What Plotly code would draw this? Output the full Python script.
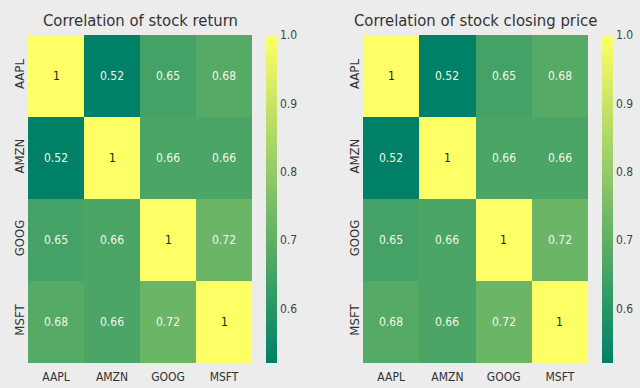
import plotly.graph_objects as go

tickers = ["AAPL", "AMZN", "GOOG", "MSFT"]

# correlation of daily returns
return_corr = [
    [1.00, 0.52, 0.65, 0.68],
    [0.52, 1.00, 0.66, 0.66],
    [0.65, 0.66, 1.00, 0.72],
    [0.68, 0.66, 0.72, 1.00],
]

# correlation of closing prices
close_corr = [
    [1.00, 0.52, 0.65, 0.68],
    [0.52, 1.00, 0.66, 0.66],
    [0.65, 0.66, 1.00, 0.72],
    [0.68, 0.66, 0.72, 1.00],
]

titles = ["Correlation of stock return", "Correlation of stock closing price"]
cbar_ticks = [0.6, 0.7, 0.8, 0.9, 1.0]
cbar_text = ["0.6", "0.7", "0.8", "0.9", "1.0"]

W, H = 640, 388
FONT = "DejaVu Sans Condensed, Liberation Sans Narrow, Liberation Sans, sans-serif"
BG = "#ececec"

# matplotlib "summer" colormap
summer = [[0.0, "rgb(0,128,102)"], [1.0, "rgb(255,255,102)"]]
zmin, zmax = 0.52, 1.0

panels = [
    # (matrix, heatmap x-range px, colorbar x px)
    (return_corr, (28, 252), 266),
    (close_corr, (363, 588), 602),
]
top_px, bot_px = 35, 363

fig = go.Figure()
annotations = []
for i, (mat, (x0, x1), cbx) in enumerate(panels):
    sfx = "" if i == 0 else str(i + 1)
    fig.add_trace(go.Heatmap(
        z=mat, x=tickers, y=tickers,
        xaxis="x" + sfx, yaxis="y" + sfx,
        colorscale=summer, zmin=zmin, zmax=zmax,
        xgap=0, ygap=0,
        colorbar=dict(
            x=cbx / W, xanchor="left", xref="paper",
            y=1 - bot_px / H, yanchor="bottom",
            len=(bot_px - top_px) / H, lenmode="fraction",
            thickness=11, thicknessmode="pixels",
            outlinewidth=0, ticks="", ticklen=0,
            tickvals=cbar_ticks, ticktext=cbar_text,
            tickfont=dict(family=FONT, size=12, color="#444"),
            xpad=0, ypad=0,
        ),
        hoverinfo="skip",
    ))
    dom_x = [x0 / W, x1 / W]
    dom_y = [1 - bot_px / H, 1 - top_px / H]
    fig.layout["xaxis" + sfx] = dict(
        domain=dom_x, anchor="y" + sfx, showgrid=False, zeroline=False,
        ticks="outside", ticklen=3, tickcolor="rgba(0,0,0,0)",
        tickfont=dict(family=FONT, size=12, color="#333"),
        showline=False,
    )
    fig.layout["yaxis" + sfx] = dict(
        domain=dom_y, anchor="x" + sfx, autorange="reversed",
        showgrid=False, zeroline=False, ticks="", tickangle=-90,
        tickfont=dict(family=FONT, size=13, color="#333"),
        showline=False,
    )
    # cell value labels
    for r, row_name in enumerate(tickers):
        for c, col_name in enumerate(tickers):
            v = mat[r][c]
            annotations.append(dict(
                x=col_name, y=row_name, xref="x" + sfx, yref="y" + sfx,
                text=f"{v:g}", showarrow=False,
                font=dict(family=FONT, size=12,
                          color="#222" if v > 0.9 else "#f2f7ea"),
            ))
    # panel title
    annotations.append(dict(
        x=(x0 + x1) / 2 / W, y=1 - 20 / H, xref="paper", yref="paper",
        text=titles[i], showarrow=False, xanchor="center", yanchor="middle",
        font=dict(family=FONT, size=16.5, color="#333"),
    ))

fig.update_layout(
    width=W, height=H,
    margin=dict(l=0, r=0, t=0, b=0),
    paper_bgcolor=BG, plot_bgcolor=BG,
    annotations=annotations,
    showlegend=False,
)

fig.write_html("out.html")
